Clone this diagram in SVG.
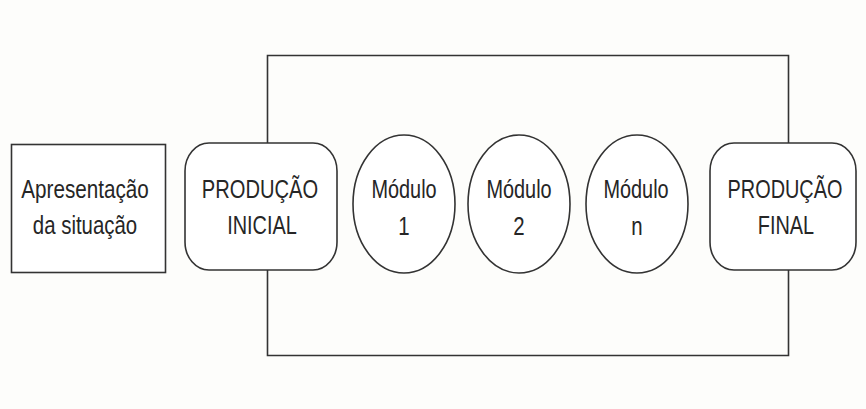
<svg xmlns="http://www.w3.org/2000/svg" width="866" height="409" viewBox="0 0 866 409">
<style>
.shape{fill:#ffffff;stroke:#333333;stroke-width:1.6}
.conn{fill:none;stroke:#333333;stroke-width:1.6}
.t{font-family:"Liberation Sans",Arial,sans-serif;font-size:25.5px;fill:#262626;text-anchor:middle}
</style>
<rect x="0" y="0" width="866" height="409" fill="#fdfdfb"/>
<g id="connectors">
<path class="conn" d="M267.5,143 V55.5 H788.5 V143"/>
<path class="conn" d="M267.5,270 V355.5 H788.5 V270"/>
</g>
<g id="apresentacao">
<rect class="shape" x="11.5" y="144.5" width="154" height="128"/>
<text class="t" transform="translate(85,198) scale(0.81,1)">Apresentação</text>
<text class="t" transform="translate(85,234) scale(0.8,1)">da situação</text>
</g>
<g id="producao-inicial">
<rect class="shape" x="185" y="143" width="152" height="127" rx="24" ry="28"/>
<text class="t" transform="translate(260,198) scale(0.79,1)">PRODUÇÃO</text>
<text class="t" transform="translate(262,234) scale(0.78,1)">INICIAL</text>
</g>
<g id="modulo-1">
<ellipse class="shape" cx="404" cy="204" rx="51" ry="69"/>
<text class="t" transform="translate(404,198) scale(0.78,1)">Módulo</text>
<text class="t" transform="translate(404,235) scale(0.8,1)">1</text>
</g>
<g id="modulo-2">
<ellipse class="shape" cx="519" cy="204" rx="51" ry="69"/>
<text class="t" transform="translate(519,198) scale(0.78,1)">Módulo</text>
<text class="t" transform="translate(519,235) scale(0.8,1)">2</text>
</g>
<g id="modulo-n">
<ellipse class="shape" cx="637" cy="204" rx="51" ry="69"/>
<text class="t" transform="translate(636,198) scale(0.78,1)">Módulo</text>
<text class="t" transform="translate(637,235) scale(0.8,1)">n</text>
</g>
<g id="producao-final">
<rect class="shape" x="710" y="143" width="146" height="127" rx="24" ry="28"/>
<text class="t" transform="translate(785,198) scale(0.78,1)">PRODUÇÃO</text>
<text class="t" transform="translate(786,234) scale(0.78,1)">FINAL</text>
</g>
</svg>
